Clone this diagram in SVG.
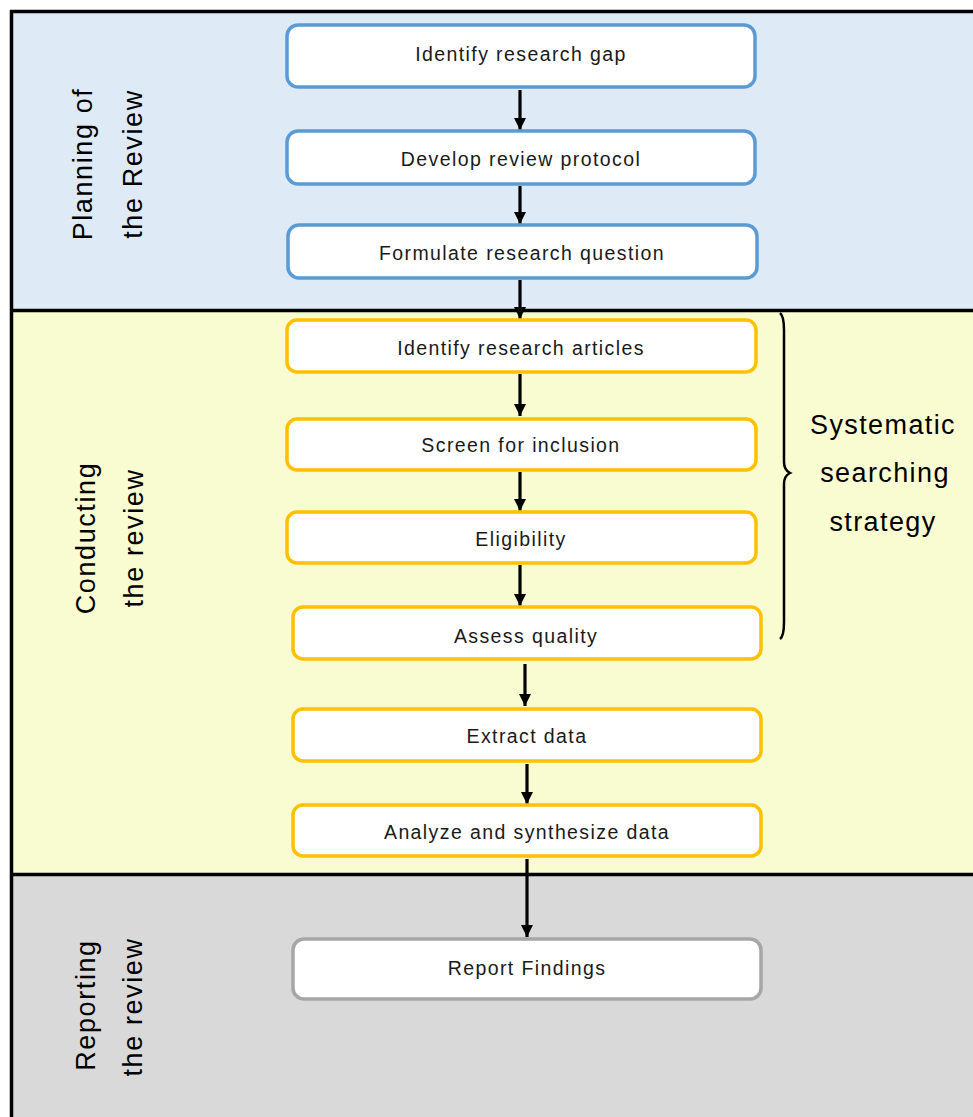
<svg xmlns="http://www.w3.org/2000/svg" width="973" height="1117" viewBox="0 0 973 1117">
<style>
.box{fill:#ffffff;stroke-width:3.5}
.blue{stroke:#5B9BD5}
.yel{stroke:#FFC000}
.gray{stroke:#A6A6A6}
.t{font-family:"Liberation Sans",Arial,sans-serif;font-size:19.5px;fill:#1a1a1a;text-anchor:middle;letter-spacing:1.4px}
.side{font-family:"Liberation Sans",Arial,sans-serif;font-size:27px;fill:#000;text-anchor:middle;letter-spacing:1.6px}
.brt{font-family:"Liberation Sans",Arial,sans-serif;font-size:27px;fill:#000;text-anchor:middle;letter-spacing:1.4px}
.conn{stroke:#000;stroke-width:3.2;fill:none}
</style>
<defs>
<marker id="ah" viewBox="0 0 10 10" refX="10" refY="5" markerWidth="3.8" markerHeight="3.8" orient="auto" markerUnits="strokeWidth">
<path d="M0,0 L10,5 L0,10 z" fill="#000"/>
</marker>
</defs>
<rect x="0" y="0" width="973" height="1117" fill="#ffffff"/>
<g id="lane-planning">
<rect x="11" y="11" width="962" height="299" fill="#DEEAF6"/>
<text class="side" transform="translate(92,164) rotate(-90)">Planning of</text>
<text class="side" transform="translate(142,164) rotate(-90)">the Review</text>
</g>
<g id="lane-conducting">
<rect x="11" y="311" width="962" height="563" fill="#F9FBD0"/>
<text class="side" transform="translate(95,538) rotate(-90)">Conducting</text>
<text class="side" transform="translate(143,538) rotate(-90)">the review</text>
</g>
<g id="lane-reporting">
<rect x="11" y="875" width="962" height="242" fill="#D9D9D9"/>
<text class="side" transform="translate(95,1005) rotate(-90)">Reporting</text>
<text class="side" transform="translate(142,1007) rotate(-90)">the review</text>
</g>
<g id="frame" stroke="#000" stroke-width="3.5" fill="none">
<line x1="11.5" y1="10" x2="11.5" y2="1117"/>
<line x1="10" y1="11.5" x2="973" y2="11.5"/>
<line x1="10" y1="310.5" x2="973" y2="310.5"/>
<line x1="10" y1="874.5" x2="973" y2="874.5"/>
</g>
<g id="connectors">
<line class="conn" x1="520" y1="90" x2="520" y2="130" marker-end="url(#ah)"/>
<line class="conn" x1="520" y1="186" x2="520" y2="224" marker-end="url(#ah)"/>
<line class="conn" x1="520" y1="280" x2="520" y2="319" marker-end="url(#ah)"/>
<line class="conn" x1="520" y1="374" x2="520" y2="416" marker-end="url(#ah)"/>
<line class="conn" x1="520" y1="472" x2="520" y2="511" marker-end="url(#ah)"/>
<line class="conn" x1="520" y1="565" x2="520" y2="606" marker-end="url(#ah)"/>
<line class="conn" x1="525" y1="664" x2="525" y2="706" marker-end="url(#ah)"/>
<line class="conn" x1="527" y1="764" x2="527" y2="804" marker-end="url(#ah)"/>
<line class="conn" x1="527" y1="859" x2="527" y2="937" marker-end="url(#ah)"/>
</g>
<g id="n1"><rect class="box blue" x="287" y="25" width="468" height="62" rx="11"/><text class="t" x="521" y="61">Identify research gap</text></g>
<g id="n2"><rect class="box blue" x="287" y="131" width="468" height="53" rx="11"/><text class="t" x="521" y="166">Develop review protocol</text></g>
<g id="n3"><rect class="box blue" x="288" y="225" width="469" height="53" rx="11"/><text class="t" x="522" y="260">Formulate research question</text></g>
<g id="n4"><rect class="box yel" x="287" y="320" width="469" height="52" rx="10"/><text class="t" x="521" y="355">Identify research articles</text></g>
<g id="n5"><rect class="box yel" x="287" y="419" width="469" height="51" rx="10"/><text class="t" x="521" y="452">Screen for inclusion</text></g>
<g id="n6"><rect class="box yel" x="287" y="512" width="469" height="51" rx="10"/><text class="t" x="521" y="546">Eligibility</text></g>
<g id="n7"><rect class="box yel" x="293" y="607" width="468" height="52" rx="10"/><text class="t" x="526" y="643">Assess quality</text></g>
<g id="n8"><rect class="box yel" x="293" y="709" width="468" height="52" rx="10"/><text class="t" x="527" y="743">Extract data</text></g>
<g id="n9"><rect class="box yel" x="293" y="805" width="468" height="51" rx="10"/><text class="t" x="527" y="839">Analyze and synthesize data</text></g>
<g id="n10"><rect class="box gray" x="293" y="939" width="468" height="60" rx="11"/><text class="t" x="527" y="975">Report Findings</text></g>
<g id="brace">
<path d="M780,313 Q784,316 784,330 L784,462 Q784,470 790,473 Q784,476 784,484 L784,622 Q784,636 780,639" fill="none" stroke="#000" stroke-width="2.5"/>
<text class="brt" x="883" y="434">Systematic</text>
<text class="brt" x="885" y="482">searching</text>
<text class="brt" x="883" y="531">strategy</text>
</g>
</svg>
